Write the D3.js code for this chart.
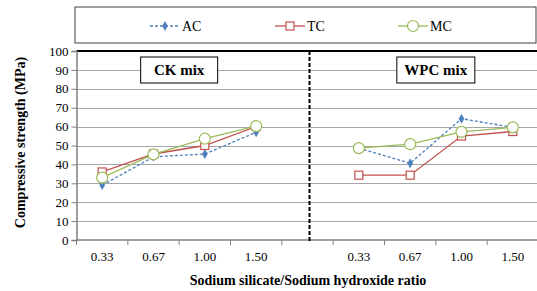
<!DOCTYPE html>
<html>
<head>
  <title>Compressive strength</title>
  <script src="https://d3js.org/d3.v7.min.js"></script>
</head>
<body style="margin:0; background:#fff">
<svg width="537" height="291" font-family="Liberation Serif"></svg>
<script>
  // data
  const ratios = ["0.33", "0.67", "1.00", "1.50"];
  const mixes = ["CK mix", "WPC mix"];
  const seriesNames = ["AC", "TC", "MC"];
  const acCK = [29, 44, 45.5, 57];
  const tcCK = [36, 45.5, 50, 60];
  const mcCK = [33, 45.3, 53.6, 60.3];
  const acWPC = [48.6, 40.6, 64.2, 59.6];
  const tcWPC = [34.3, 34.3, 55, 57.4];
  const mcWPC = [48.6, 50.7, 57.2, 59.6];
  const yTicks = [0, 10, 20, 30, 40, 50, 60, 70, 80, 90, 100];

  const colors = { AC: "#4F81BD", TC: "#C0504D", MC: "#9BBB59" };
  const FONT = "Liberation Serif";

  const svg = d3.select("svg");
  const margin = { left: 76.5, right: -1.5, top: 51, bottom: 51 };
  const width = 537, height = 291;

  // 9 slots: 4 CK ratios, a gap, 4 WPC ratios
  const slots = ratios.map(r => "CK " + r).concat(["gap"], ratios.map(r => "WPC " + r));
  const x = d3.scaleBand().domain(slots).range([margin.left, width - margin.right]).padding(0);
  const y = d3.scaleLinear().domain([0, 100]).range([height - margin.bottom, margin.top]);

  // grid
  svg.append("g")
    .selectAll("line")
    .data(yTicks.filter(d => d > 0 && d < 100))
    .enter().append("line")
    .attr("x1", margin.left).attr("x2", width)
    .attr("y1", d => Math.round(y(d)) + 0.5).attr("y2", d => Math.round(y(d)) + 0.5)
    .attr("stroke", "#a6a6a6").attr("stroke-width", 1);

  // top border of plot
  svg.append("line")
    .attr("x1", margin.left).attr("x2", width)
    .attr("y1", y(100)).attr("y2", y(100))
    .attr("stroke", "#000").attr("stroke-width", 2);

  // y axis
  const yAxis = svg.append("g")
    .attr("transform", "translate(" + margin.left + ",0)")
    .call(d3.axisLeft(y).tickValues(yTicks).tickSize(5).tickPadding(3));
  yAxis.attr("font-family", FONT).attr("font-size", 13);
  yAxis.select(".domain").attr("stroke", "#808080").attr("stroke-width", 1.5);
  yAxis.selectAll(".tick line").attr("stroke", "#808080");
  yAxis.selectAll("text").attr("fill", "#000").attr("font-family", FONT).attr("font-size", 13);

  // x axis: ticks at band boundaries
  const xAxisG = svg.append("g")
    .attr("transform", "translate(0," + y(0) + ")");
  xAxisG.append("line")
    .attr("x1", margin.left).attr("x2", width)
    .attr("stroke", "#808080").attr("stroke-width", 1.5);
  xAxisG.selectAll(".xt")
    .data(slots)
    .enter().append("line")
    .attr("class", "xt")
    .attr("x1", d => x(d)).attr("x2", d => x(d))
    .attr("y1", 0).attr("y2", 5)
    .attr("stroke", "#808080");
  xAxisG.selectAll(".xl")
    .data(slots.filter(d => d !== "gap"))
    .enter().append("text")
    .attr("class", "xl")
    .attr("x", d => x(d) + x.bandwidth() / 2)
    .attr("y", 21)
    .attr("text-anchor", "middle")
    .attr("font-family", FONT)
    .attr("font-size", 13)
    .text(d => d.split(" ")[1]);

  // dashed separator
  svg.append("line")
    .attr("x1", x("gap") + x.bandwidth() / 2 + 2).attr("x2", x("gap") + x.bandwidth() / 2 + 2)
    .attr("y1", y(100)).attr("y2", y(0) + 2)
    .attr("stroke", "#000").attr("stroke-width", 2)
    .attr("stroke-dasharray", "4,2");

  // mix labels in boxes
  const boxes = [
    { label: mixes[0], cx: (x("CK 0.67") + x("CK 1.00") + x.bandwidth()) / 2, w: 77 },
    { label: mixes[1], cx: (x("WPC 0.67") + x("WPC 1.00") + x.bandwidth()) / 2, w: 78 }
  ];
  boxes.forEach(b => {
    svg.append("rect")
      .attr("x", b.cx - b.w / 2).attr("y", 57).attr("width", b.w).attr("height", 26)
      .attr("fill", "#fff").attr("stroke", "#000").attr("stroke-width", 1);
    svg.append("text")
      .attr("x", b.cx).attr("y", 75)
      .attr("text-anchor", "middle")
      .attr("font-family", FONT)
      .attr("font-size", 15).attr("font-weight", "bold")
      .text(b.label);
  });

  // series
  const series = [
    { name: "AC", groups: [acCK, acWPC] },
    { name: "TC", groups: [tcCK, tcWPC] },
    { name: "MC", groups: [mcCK, mcWPC] }
  ];
  const prefixes = ["CK ", "WPC "];
  const line = d3.line().x(d => d.x).y(d => d.y);

  function drawMarker(g, name, px, py) {
    if (name === "AC") {
      g.append("path")
        .attr("d", d3.symbol().type(d3.symbolDiamond).size(28)())
        .attr("transform", "translate(" + px + "," + py + ")")
        .attr("fill", colors.AC);
    } else if (name === "TC") {
      g.append("rect")
        .attr("x", px - 4).attr("y", py - 4).attr("width", 8).attr("height", 8)
        .attr("fill", "#fff").attr("stroke", colors.TC).attr("stroke-width", 1.2);
    } else {
      g.append("circle")
        .attr("cx", px).attr("cy", py).attr("r", 5.5)
        .attr("fill", "#fff").attr("stroke", colors.MC).attr("stroke-width", 1.2);
    }
  }

  series.forEach(s => {
    const g = svg.append("g");
    s.groups.forEach((vals, gi) => {
      const pts = vals.map((v, i) => ({
        x: x(prefixes[gi] + ratios[i]) + x.bandwidth() / 2,
        y: y(v)
      }));
      g.append("path")
        .attr("d", line(pts))
        .attr("fill", "none")
        .attr("stroke", colors[s.name])
        .attr("stroke-width", 1.3)
        .attr("stroke-dasharray", s.name === "AC" ? "3,2" : null);
      pts.forEach(p => drawMarker(g, s.name, p.x, p.y));
    });
  });

  // legend
  svg.append("rect")
    .attr("x", 75).attr("y", 7).attr("width", 461).attr("height", 36)
    .attr("fill", "#fff").attr("stroke", "#404040").attr("stroke-width", 1);
  const legendX = [150, 275, 398];
  seriesNames.forEach((name, i) => {
    const lx = legendX[i], ly = 26;
    const lg = svg.append("g");
    lg.append("line")
      .attr("x1", lx).attr("x2", lx + 30)
      .attr("y1", ly).attr("y2", ly)
      .attr("stroke", colors[name]).attr("stroke-width", 1.3)
      .attr("stroke-dasharray", name === "AC" ? "3,2" : null);
    drawMarker(lg, name, lx + 15, ly);
    lg.append("text")
      .attr("x", lx + 32).attr("y", ly + 4.5)
      .attr("font-family", FONT)
      .attr("font-size", 14)
      .text(name);
  });

  // axis titles
  svg.append("text")
    .attr("transform", "translate(25," + (y(50) - 3) + ") rotate(-90)")
    .attr("text-anchor", "middle")
    .attr("font-family", FONT)
    .attr("font-size", 14).attr("font-weight", "bold")
    .text("Compressive strength (MPa)");
  svg.append("text")
    .attr("x", 308).attr("y", 285)
    .attr("text-anchor", "middle")
    .attr("font-family", FONT)
    .attr("font-size", 14).attr("font-weight", "bold")
    .text("Sodium silicate/Sodium hydroxide ratio");
</script>
</body>
</html>
